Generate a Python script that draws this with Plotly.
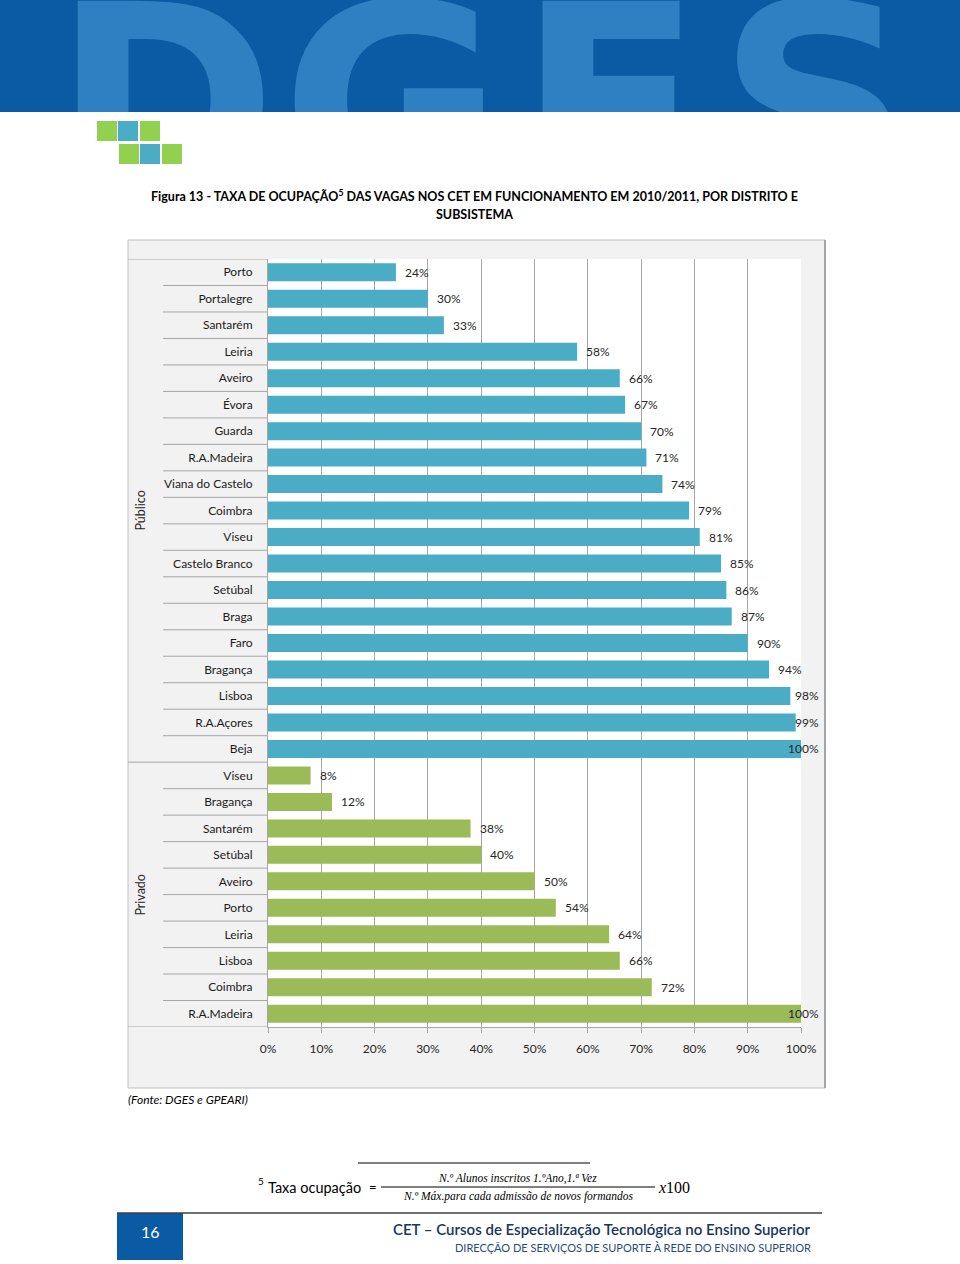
import plotly.graph_objects as go

W, H = 960, 1264


def px(x):
    return x / W


def py(y):
    return 1 - y / H


# ---------------- data ----------------
publico_districts = ["Porto", "Portalegre", "Santarém", "Leiria", "Aveiro", "Évora", "Guarda",
                     "R.A.Madeira", "Viana do Castelo", "Coimbra", "Viseu", "Castelo Branco",
                     "Setúbal", "Braga", "Faro", "Bragança", "Lisboa", "R.A.Açores", "Beja"]
publico_rates = [24, 30, 33, 58, 66, 67, 70, 71, 74, 79, 81, 85, 86, 87, 90, 94, 98, 99, 100]

privado_districts = ["Viseu", "Bragança", "Santarém", "Setúbal", "Aveiro", "Porto", "Leiria",
                     "Lisboa", "Coimbra", "R.A.Madeira"]
privado_rates = [8, 12, 38, 40, 50, 54, 64, 66, 72, 100]

group_names = ["Público", "Privado"]
x_ticks = [0, 10, 20, 30, 40, 50, 60, 70, 80, 90, 100]
x_tick_labels = [f"{v}%" for v in x_ticks]

banner_letters = ["D", "G", "E", "S"]

# ---------------- styles ----------------
BLUE = "#4bacc6"
GREEN = "#9bbb59"
DGES_DARK = "#0b5ba4"
DGES_LIGHT = "#2e80c2"
LOGO_GREEN = "#92d050"
LOGO_BLUE = "#4bacc6"
GRID = "#a6a6a6"
FONT = "Lato"

names = publico_districts + privado_districts
n_pub = len(publico_districts)
n_all = len(names)
pos_pub = list(range(n_pub))
pos_priv = list(range(n_pub, n_all))

fig = go.Figure()
fig.add_trace(go.Bar(x=publico_rates, y=pos_pub, orientation="h", marker=dict(color=BLUE, line=dict(width=0)),
                     name=group_names[0], showlegend=False))
fig.add_trace(go.Bar(x=privado_rates, y=pos_priv, orientation="h", marker=dict(color=GREEN, line=dict(width=0)),
                     name=group_names[1], showlegend=False))

# banner big letters (clipped to banner area)
fig.add_trace(go.Scatter(x=[165, 392, 610, 815], y=[-18] * 4, text=banner_letters, mode="text",
                         textposition="middle center",
                         textfont=dict(family="DejaVu Sans", size=270, color=DGES_LIGHT, weight="bold"),
                         xaxis="x2", yaxis="y2", cliponaxis=True, showlegend=False, hoverinfo="skip"))

shapes = []
# banner
shapes.append(dict(type="rect", xref="paper", yref="paper", x0=0, x1=1, y0=py(112), y1=1,
                   fillcolor=DGES_DARK, line=dict(width=0), layer="below"))
# logo squares
for (x0, y0, c) in [(97, 121, LOGO_GREEN), (118, 121, LOGO_BLUE), (140, 121, LOGO_GREEN),
                    (119, 144, LOGO_GREEN), (140, 144, LOGO_BLUE), (162, 144, LOGO_GREEN)]:
    shapes.append(dict(type="rect", xref="paper", yref="paper", x0=px(x0), x1=px(x0 + 20),
                       y0=py(y0 + 20), y1=py(y0), fillcolor=c, line=dict(width=0), layer="below"))
# chart box
shapes.append(dict(type="rect", xref="paper", yref="paper", x0=px(128), x1=px(825), y0=py(1088), y1=py(240),
                   fillcolor="#f2f2f2", line=dict(color="#bfbfbf", width=1), layer="below"))
shapes.append(dict(type="line", xref="paper", yref="paper", x0=px(825), x1=px(825), y0=py(1088), y1=py(240),
                   line=dict(color="#a6a6a6", width=2), layer="below"))
# plot area
shapes.append(dict(type="rect", xref="paper", yref="paper", x0=px(268), x1=px(801), y0=py(1027), y1=py(259),
                   fillcolor="white", line=dict(width=0), layer="below"))
# category separators
group_bounds = [-0.5, n_pub - 0.5, n_all - 0.5]
for i in range(n_all + 1):
    b = i - 0.5
    x_start = 128 if b in group_bounds else 163
    shapes.append(dict(type="line", xref="paper", yref="y", x0=px(x_start), x1=px(268), y0=b, y1=b,
                       line=dict(color=GRID, width=1)))
# formula lines
shapes.append(dict(type="line", xref="paper", yref="paper", x0=px(358), x1=px(590), y0=py(1163), y1=py(1163),
                   line=dict(color="black", width=1)))
shapes.append(dict(type="line", xref="paper", yref="paper", x0=px(381), x1=px(655), y0=py(1187), y1=py(1187),
                   line=dict(color="black", width=1)))
# footer
shapes.append(dict(type="rect", xref="paper", yref="paper", x0=px(117), x1=px(183), y0=py(1260), y1=py(1213),
                   fillcolor=DGES_DARK, line=dict(width=0)))
shapes.append(dict(type="line", xref="paper", yref="paper", x0=px(117), x1=px(822), y0=py(1213), y1=py(1213),
                   line=dict(color="#404040", width=1.5)))

ann = []
# title
ann.append(dict(xref="paper", yref="paper", x=px(474), y=py(196), xanchor="center", yanchor="middle",
                text="<b>Figura 13 - TAXA DE OCUPAÇÃO<sup>5</sup> DAS VAGAS NOS CET EM FUNCIONAMENTO EM 2010/2011, POR DISTRITO E</b>",
                showarrow=False, font=dict(family=FONT, size=12.5, color="black")))
ann.append(dict(xref="paper", yref="paper", x=px(474), y=py(214), xanchor="center", yanchor="middle",
                text="<b>SUBSISTEMA</b>", showarrow=False, font=dict(family=FONT, size=12.5, color="black")))
# group labels
ann.append(dict(xref="paper", yref="y", x=px(141), y=(n_pub - 1) / 2, text=group_names[0], textangle=-90,
                showarrow=False, xanchor="center", yanchor="middle", font=dict(family=FONT, size=12.5, color="#262626")))
ann.append(dict(xref="paper", yref="y", x=px(141), y=(n_pub + n_all - 1) / 2, text=group_names[1], textangle=-90,
                showarrow=False, xanchor="center", yanchor="middle", font=dict(family=FONT, size=12.5, color="#262626")))
# value labels
for vals, pos in [(publico_rates, pos_pub), (privado_rates, pos_priv)]:
    for v, p in zip(vals, pos):
        if v >= 97:
            ann.append(dict(xref="paper", yref="y", x=px(821), y=p, xanchor="right", yanchor="middle",
                            text=f"{v}%", showarrow=False, font=dict(family=FONT, size=12, color="#262626")))
        else:
            ann.append(dict(xref="x", yref="y", x=v, y=p, xanchor="left", yanchor="middle", xshift=7,
                            text=f"{v}%", showarrow=False, font=dict(family=FONT, size=12, color="#262626")))
# source
ann.append(dict(xref="paper", yref="paper", x=px(126), y=py(1099), xanchor="left", yanchor="middle",
                text="<i>(Fonte: DGES e GPEARI)</i>", showarrow=False, font=dict(family=FONT, size=12, color="black")))
# formula
ann.append(dict(xref="paper", yref="paper", x=px(256), y=py(1181), xanchor="left", yanchor="middle",
                text="5", showarrow=False, font=dict(family=FONT, size=10, color="black")))
ann.append(dict(xref="paper", yref="paper", x=px(266), y=py(1187), xanchor="left", yanchor="middle",
                text="Taxa ocupação", showarrow=False, font=dict(family=FONT, size=14.5, color="black")))
ann.append(dict(xref="paper", yref="paper", x=px(373), y=py(1187), xanchor="center", yanchor="middle",
                text="=", showarrow=False, font=dict(family=FONT, size=13, color="black")))
ann.append(dict(xref="paper", yref="paper", x=px(517), y=py(1178), xanchor="center", yanchor="middle",
                text="<i>N.º Alunos inscritos 1.ºAno,1.ª Vez</i>", showarrow=False,
                font=dict(family="Liberation Serif", size=11.5, color="black")))
ann.append(dict(xref="paper", yref="paper", x=px(518), y=py(1196), xanchor="center", yanchor="middle",
                text="<i>N.º Máx.para cada admissão de novos formandos</i>", showarrow=False,
                font=dict(family="Liberation Serif", size=11.5, color="black")))
ann.append(dict(xref="paper", yref="paper", x=px(656), y=py(1187), xanchor="left", yanchor="middle",
                text="<i>x</i>100", showarrow=False, font=dict(family="Liberation Serif", size=16, color="black")))
# footer texts
ann.append(dict(xref="paper", yref="paper", x=px(150), y=py(1231), xanchor="center", yanchor="middle",
                text="16", showarrow=False, font=dict(family=FONT, size=16, color="white")))
ann.append(dict(xref="paper", yref="paper", x=px(813), y=py(1229), xanchor="right", yanchor="middle",
                text="CET – Cursos de Especialização Tecnológica no Ensino Superior", showarrow=False,
                font=dict(family=FONT, size=15, color="#17375e", weight=600)))
ann.append(dict(xref="paper", yref="paper", x=px(813), y=py(1247), xanchor="right", yanchor="middle",
                text="DIRECÇÃO DE SERVIÇOS DE SUPORTE À REDE DO ENSINO SUPERIOR", showarrow=False,
                font=dict(family=FONT, size=11, color="#1f4e79")))

fig.update_layout(
    template="none", autosize=False,
    width=W, height=H, margin=dict(l=0, r=0, t=0, b=0, pad=0, autoexpand=False),
    paper_bgcolor="white", plot_bgcolor="white",
    barmode="overlay", bargap=0.32,
    shapes=shapes, annotations=ann, showlegend=False,
    xaxis=dict(domain=[px(268), px(801)], range=[0, 100], tickvals=x_ticks, ticktext=x_tick_labels,
               showgrid=True, gridcolor=GRID, gridwidth=1, zeroline=False, automargin=False,
               showline=True, linecolor=GRID, linewidth=1, ticks="outside", ticklen=5, tickcolor=GRID,
               ticklabelstandoff=6, tickfont=dict(family=FONT, size=12, color="#262626"),
               anchor="y", fixedrange=True),
    yaxis=dict(domain=[py(1027), py(259)], range=[n_all - 0.5, -0.5], tickvals=list(range(n_all)), ticktext=names,
               showgrid=False, zeroline=False, showline=True, linecolor=GRID, linewidth=1, ticks="",
               automargin=False,
               ticklabelstandoff=12, tickfont=dict(family=FONT, size=12, color="#1a1a1a"),
               anchor="x", fixedrange=True),
    xaxis2=dict(domain=[0, 1], range=[0, 960], visible=False, anchor="y2", fixedrange=True, automargin=False),
    yaxis2=dict(domain=[py(112), 1], range=[0, 112], visible=False, anchor="x2", fixedrange=True, automargin=False),
)

fig.write_html("out.html", config={"displayModeBar": False},
               post_script="document.body.style.margin='0px';document.body.style.overflow='hidden';")
